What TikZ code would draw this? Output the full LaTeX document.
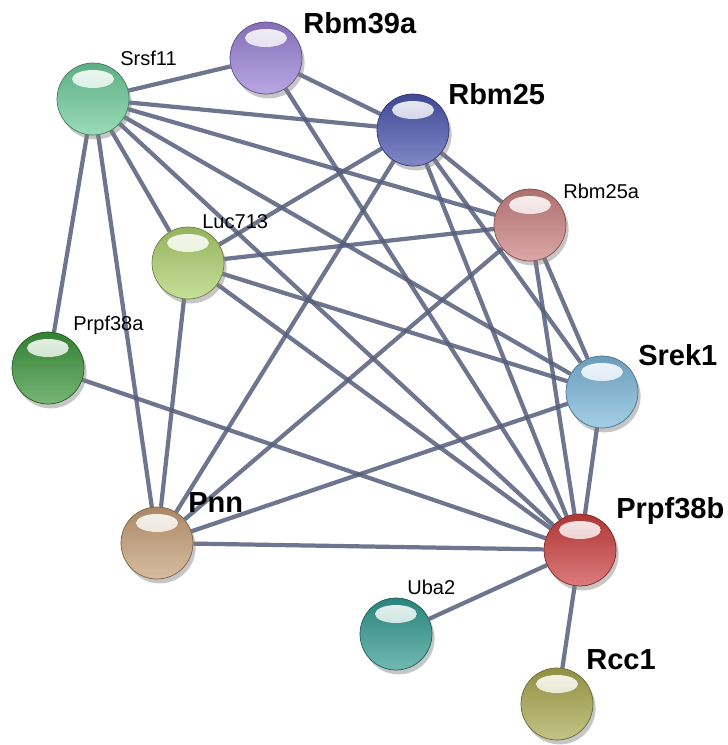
\documentclass[tikz,border=0pt]{standalone}
\usepackage{fontspec}
\setmainfont{Liberation Sans}
\usetikzlibrary{shadows,backgrounds}

\definecolor{srsfcol}{RGB}{110,205,155}
\definecolor{rbmxcol}{RGB}{155,130,215}
\definecolor{rbmcol}{RGB}{75,85,175}
\definecolor{rbmacol}{RGB}{205,130,130}
\definecolor{luccol}{RGB}{175,210,110}
\definecolor{prpacol}{RGB}{60,150,60}
\definecolor{srekcol}{RGB}{125,185,220}
\definecolor{pnncol}{RGB}{200,160,120}
\definecolor{prpbcol}{RGB}{205,65,65}
\definecolor{ubacol}{RGB}{50,155,145}
\definecolor{rcccol}{RGB}{170,170,80}
\definecolor{edgecol}{RGB}{85,93,122}

\tikzset{
ball/.style={circle, minimum size=1.44cm, inner sep=0pt,
  draw=#1!60!black, thin,
  top color=#1!85!black, bottom color=#1!70!white,
  drop shadow={shadow xshift=1.5pt, shadow yshift=-2.5pt, opacity=0.45},
  path picture={
    \shade[top color=white, bottom color=white!55!#1, opacity=0.9]
      ([yshift=0.4cm]path picture bounding box.center) ellipse (0.42cm and 0.18cm);
  }},
link/.style={draw=edgecol, line width=2.4pt, opacity=0.85},
smalllab/.style={anchor=base west, inner sep=0pt, font=\fontsize{11.4}{13}\selectfont},
biglab/.style={anchor=base west, inner sep=0pt, font=\fontsize{16.5}{19}\selectfont\bfseries}
}

\begin{document}
\begin{tikzpicture}[x=0.02cm, y=-0.02cm]
\useasboundingbox (0,0) rectangle (728,745);

% proteins
\node[ball=srsfcol] (Srsf11) at (93,99) {};
\node[ball=rbmxcol] (Rbm39a) at (266,58) {};
\node[ball=rbmcol] (Rbm25) at (413,130) {};
\node[ball=rbmacol] (Rbm25a) at (530,225) {};
\node[ball=luccol] (Luc713) at (188,263) {};
\node[ball=prpacol] (Prpf38a) at (48,368) {};
\node[ball=srekcol] (Srek1) at (602,392) {};
\node[ball=pnncol] (Pnn) at (157,543) {};
\node[ball=prpbcol] (Prpf38b) at (580,550) {};
\node[ball=ubacol] (Uba2) at (396,634) {};
\node[ball=rcccol] (Rcc1) at (557,704) {};

% names
\node[smalllab] (lSrsf11) at (120,65) {Srsf11};
\node[biglab] (lRbm39a) at (303,33) {Rbm39a};
\node[biglab] (lRbm25) at (448,104) {Rbm25};
\node[smalllab] (lRbm25a) at (563,198) {Rbm25a};
\node[smalllab] (lLuc713) at (202,228) {Luc713};
\node[smalllab] (lPrpf38a) at (73,330) {Prpf38a};
\node[biglab] (lSrek1) at (638,365) {Srek1};
\node[biglab] (lPnn) at (188,512) {Pnn};
\node[biglab] (lPrpf38b) at (616,518) {Prpf38b};
\node[smalllab] (lUba2) at (407,594) {Uba2};
\node[biglab] (lRcc1) at (586,669) {Rcc1};

% interactions
\begin{scope}[on background layer]
\foreach \a/\b in {Srsf11/Rbm39a, Srsf11/Rbm25, Srsf11/Rbm25a, Srsf11/Srek1,
    Srsf11/Prpf38b, Srsf11/Luc713, Srsf11/Prpf38a, Srsf11/Pnn,
    Rbm39a/Rbm25, Rbm39a/Prpf38b,
    Rbm25/Luc713, Rbm25/Pnn, Rbm25/Rbm25a, Rbm25/Srek1, Rbm25/Prpf38b,
    Rbm25a/Luc713, Rbm25a/Pnn, Rbm25a/Srek1, Rbm25a/Prpf38b,
    Luc713/Srek1, Luc713/Prpf38b, Luc713/Pnn,
    Prpf38a/Prpf38b, Srek1/Pnn, Srek1/Prpf38b, Pnn/Prpf38b,
    Prpf38b/Uba2, Prpf38b/Rcc1}
  \draw[link] (\a) -- (\b);
\end{scope}
\end{tikzpicture}
\end{document}
